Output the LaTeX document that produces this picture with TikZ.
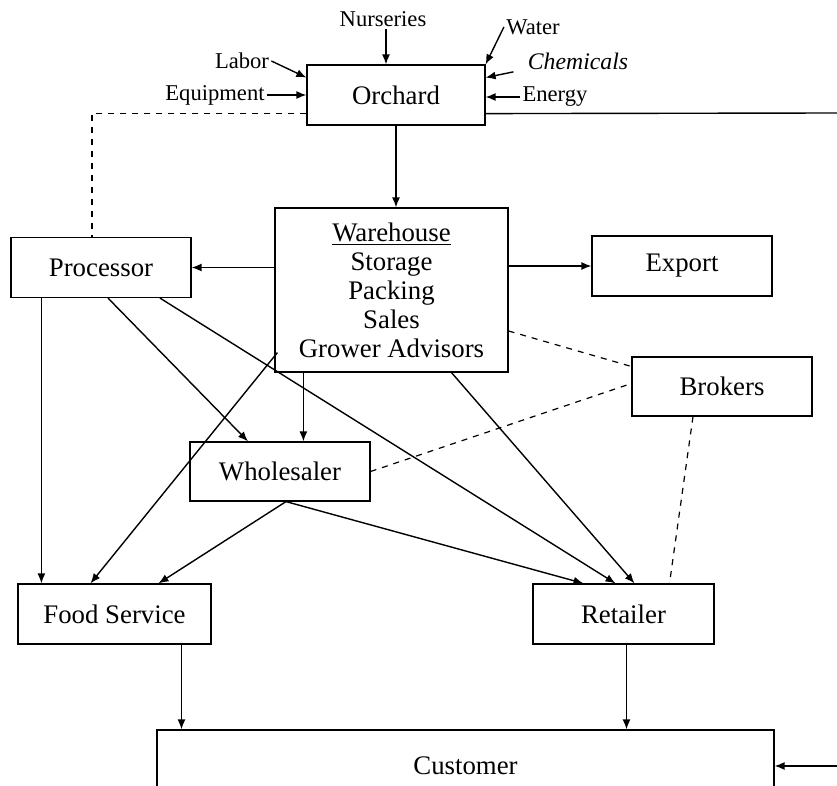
\documentclass[tikz,border=0pt]{standalone}
\usepackage{fontspec}
\setmainfont{Liberation Serif}
\usepackage{tikz}
\usetikzlibrary{arrows.meta, positioning, calc}
\newcommand{\boxfont}{\fontsize{13.4}{14.5}\selectfont}
\newcommand{\inputfont}{\fontsize{11.3}{13}\selectfont}

\begin{document}
\begin{tikzpicture}[
    x=0.5pt, y=-0.5pt,
    box/.style={rectangle, draw, line width=0.6pt, minimum width=#1, minimum height=30pt, inner sep=0pt, align=center, font=\boxfont},
    box/.default=90pt,
    input/.style={font=\inputfont, inner sep=1pt},
    arrow/.style={-{Latex[length=5pt,width=4pt]}, line width=0.7pt},
    link/.style={dashed, line width=0.6pt}
]
    \clip (0,0) rectangle (837,786);

    \node[box=89pt] (orchard) at (396,95) {Orchard};
    \node[box=116.5pt, minimum height=82pt] (warehouse) at (391.5,290) {\underline{Warehouse}\\Storage\\Packing\\Sales\\Grower Advisors};
    \node[box] (processor) at (101,267.5) {Processor};
    \node[box] (export) at (682,266) {Export};
    \node[box, minimum height=29.5pt] (brokers) at (722,386.5) {Brokers};
    \node[box, minimum height=29.5pt] (wholesaler) at (280,471.5) {Wholesaler};
    \node[box=96.5pt] (foodservice) at (114.5,614) {Food Service};
    \node[box=90.5pt] (retailer) at (623.5,614) {Retailer};
    \node[box=308.5pt, minimum height=36pt] (customer) at (465.5,766) {Customer};

    % Orchard inputs
    \node[input] (nurseries) at (383,19) {Nurseries};
    \node[input] (water) at (533,27) {Water};
    \node[input, font=\inputfont\itshape, scale=1.05] (chemicals) at (578,61) {Chemicals};
    \node[input] (energy) at (555,97) {Energy};
    \node[input] (labor) at (242,61) {Labor};
    \node[input] (equipment) at (215,95) {Equipment};

    \draw[arrow] ([xshift=1.5pt]nurseries.south) -- ([xshift=1.5pt]nurseries.south |- orchard.north);
    \draw[arrow] (water.west) -- (orchard.north east);
    \draw[arrow] ([xshift=-6pt]chemicals.south west) -- (orchard.11);
    \draw[arrow] (energy.west) -- (energy.west -| orchard.east);
    \draw[arrow] (labor.east) -- (orchard.169);
    \draw[arrow] (equipment.east) -- (equipment.east -| orchard.west);

    \coordinate (loopend) at (837,113);
    \coordinate (custin) at (837,766);
    \draw[line width=0.7pt] ([yshift=6pt]orchard.south east) -- (loopend);
    \draw[arrow] (custin) -- (customer.east |- custin);
    \draw[link] ([yshift=6pt]orchard.south west) -| ([xshift=-4.5pt]processor.north);

    \draw[arrow] (orchard.south) -- (orchard.south |- warehouse.north);
    \draw[arrow] (processor.east -| warehouse.west) -- (processor.east);
    \draw[arrow] (export.west -| warehouse.east) -- (export.west);
    \draw[arrow] ([xshift=14.5pt]warehouse.south west) -- ([xshift=14.5pt]warehouse.south west |- wholesaler.north);
    \draw[arrow] ([xshift=1.5pt, yshift=10pt]warehouse.south west) -- ([xshift=-12pt]foodservice.north);
    \draw[arrow] ([xshift=30pt]warehouse.south) -- ([xshift=5.5pt]retailer.north);

    \draw[arrow] ([xshift=15.5pt]processor.south west) -- ([xshift=15.5pt]processor.south west |- foodservice.north);
    \draw[arrow] ([xshift=3.5pt]processor.south) -- ([xshift=-16pt]wholesaler.north);
    \draw[arrow] ([xshift=29.5pt]processor.south) -- ([xshift=-4pt]retailer.north);

    \draw[arrow] ([xshift=3pt]wholesaler.south) -- ([xshift=22pt]foodservice.north);
    \draw[arrow] ([xshift=3pt]wholesaler.south) -- ([xshift=-20pt]retailer.north);

    % Broker links
    \draw[link] ([yshift=-20.5pt]warehouse.east) -- ([yshift=10pt]brokers.west);
    \draw[link] (wholesaler.east) -- ([yshift=1.5pt]brokers.west);
    \draw[link] ([xshift=-14.5pt]brokers.south) -- ([xshift=23pt]retailer.north);

    \draw[arrow] ([xshift=33.5pt]foodservice.south) -- ([xshift=33.5pt]foodservice.south |- customer.north);
    \draw[arrow] ([xshift=1.5pt]retailer.south) -- ([xshift=1.5pt]retailer.south |- customer.north);
\end{tikzpicture}
\end{document}
